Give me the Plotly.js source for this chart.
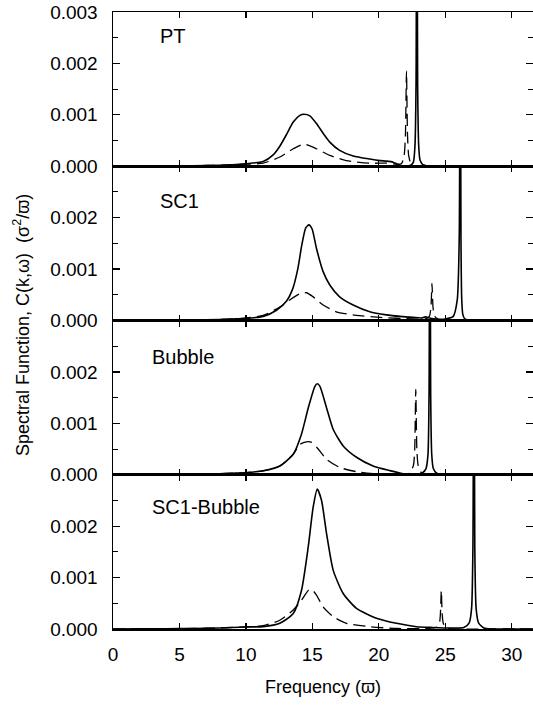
<!DOCTYPE html>
<html>
<head>
<meta charset="utf-8">
<script src="https://cdn.plot.ly/plotly-3.0.1.min.js"></script>
<style>html,body{margin:0;padding:0;background:#fff;}#chart{width:533px;height:706px;}</style>
</head>
<body>
<div id="chart"></div>
<script>
// Panel names (top to bottom)
const panelNames = ["PT", "SC1", "Bubble", "SC1-Bubble"];
const panelLabelX = [158, 158, 150, 150];   // pixel x of label start
const panelLabelY = [36, 201, 357, 507];    // pixel y of label centre

// ---- PT ----
const ptSolidX = [0, 2, 4, 6, 8, 9, 10, 11.3, 12.05, 12.55, 13.06, 13.56, 14.06, 14.36, 14.81, 15.31, 15.81, 16.31, 17.05, 18.07, 19.32, 20.1, 20.57, 21.07, 21.4, 21.7, 22.0, 22.4, 22.6, 22.72, 22.8, 22.86, 22.92, 23.0, 23.1, 23.3, 23.6, 24, 26, 28, 31.6];
const ptSolidY = [0, 0.000003, 0.000006, 0.00001, 0.00002, 0.00003, 0.00005, 0.000092, 0.00022, 0.00039, 0.00062, 0.00086, 0.00099, 0.00101, 0.00098, 0.00083, 0.00064, 0.00047, 0.00031, 0.0002, 0.00014, 0.00011, 0.0001, 0.00008, 0.00004, 0.00001, 0.000005, 0.00002, 0.00008, 0.0004, 0.0016, 0.008, 0.0016, 0.0004, 0.00012, 0.00003, 0.00001, 0, 0, 0, 0];
const ptDashX = [0, 2, 4, 6, 8, 9, 10, 11.3, 12.55, 13.56, 14.36, 15.31, 16.31, 17.55, 19.32, 20.57, 21.3, 21.7, 21.9, 22.0, 22.08, 22.16, 22.25, 22.45, 22.8, 24, 28, 31.6];
const ptDashY = [0, 0.000003, 0.000006, 0.00001, 0.00002, 0.00003, 0.00004, 0.00006, 0.00018, 0.00034, 0.00043, 0.00034, 0.00021, 0.00011, 0.00006, 0.00006, 0.00004, 0.00005, 0.0002, 0.0006, 0.00185, 0.0006, 0.0002, 0.00003, 0, 0, 0, 0];

// ---- SC1 ----
const sc1SolidX = [0, 2, 4, 6, 8, 9, 10, 11.3, 12.3, 13.06, 13.5, 13.9, 14.2, 14.5, 14.74, 14.98, 15.31, 15.81, 16.31, 17.05, 18.07, 19.32, 20.57, 21.6, 22.6, 23.2, 23.5, 23.8, 24.3, 25.0, 25.6, 25.9, 26.05, 26.12, 26.18, 26.24, 26.32, 26.45, 26.7, 27.2, 28, 31.6];
const sc1SolidY = [0, 0.000003, 0.000006, 0.00001, 0.00002, 0.00003, 0.00004, 0.00008, 0.0002, 0.00038, 0.0006, 0.001, 0.00146, 0.0018, 0.00186, 0.00178, 0.0014, 0.00095, 0.00069, 0.00046, 0.0003, 0.00017, 0.00011, 0.00008, 0.00006, 0.00005, 0.00007, 0.00005, 0.00003, 0.00003, 0.00008, 0.0004, 0.0016, 0.008, 0.0016, 0.0004, 0.00012, 0.00004, 0.00001, 0, 0, 0];
const sc1DashX = [0, 2, 4, 6, 8, 9, 10, 11.3, 12.55, 13.3, 14.06, 14.56, 15.06, 15.81, 16.8, 18.3, 20.1, 22.6, 23.5, 23.8, 23.92, 24.0, 24.08, 24.2, 24.5, 25, 28, 31.6];
const sc1DashY = [0, 0.000003, 0.000006, 0.00001, 0.00002, 0.00003, 0.00005, 0.0001, 0.00026, 0.0004, 0.00052, 0.00054, 0.00046, 0.0003, 0.00017, 0.0001, 0.00006, 0.00003, 0.00003, 0.00008, 0.00025, 0.00072, 0.00025, 0.00008, 0.00002, 0, 0, 0];

// ---- Bubble ----
const bubSolidX = [0, 2, 4, 6, 8, 9, 10, 11.3, 12.55, 13.56, 14.18, 14.69, 15.19, 15.37, 15.57, 16.07, 16.57, 17.32, 18.32, 19.57, 20.83, 21.83, 22.3, 22.9, 23.3, 23.55, 23.7, 23.78, 23.84, 23.9, 23.98, 24.1, 24.35, 24.7, 26, 28, 31.6];
const bubSolidY = [0, 0.000003, 0.000006, 0.00001, 0.00002, 0.00003, 0.00004, 0.000077, 0.00017, 0.0004, 0.00079, 0.0013, 0.00172, 0.00177, 0.00172, 0.0013, 0.00088, 0.00056, 0.00034, 0.00017, 0.00008, 0.00002, 0.000005, 0.00001, 0.00004, 0.00012, 0.0004, 0.0016, 0.008, 0.0016, 0.0004, 0.00012, 0.00003, 0.00001, 0, 0, 0];
const bubDashX = [0, 2, 4, 6, 8, 9, 10, 11.3, 12.55, 13.56, 14.06, 14.56, 14.94, 15.44, 16.07, 17.07, 18.32, 20.1, 21.5, 22.3, 22.6, 22.7, 22.78, 22.86, 22.96, 23.2, 23.6, 26, 31.6];
const bubDashY = [0, 0.000003, 0.000006, 0.00001, 0.00002, 0.00003, 0.00004, 0.000077, 0.00017, 0.0004, 0.00059, 0.00064, 0.00063, 0.0005, 0.0003, 0.00014, 0.00006, 0.00001, 0, 0.00003, 0.00018, 0.0005, 0.00166, 0.0005, 0.00018, 0.00004, 0.00001, 0, 0];

// ---- SC1-Bubble ----
const scbSolidX = [0, 2, 4, 6, 8, 9, 10, 11.3, 12.55, 13.56, 14.18, 14.69, 15.06, 15.37, 15.69, 16.07, 16.57, 17.32, 18.32, 19.82, 21.33, 22.83, 24, 25.5, 26.4, 26.8, 26.98, 27.08, 27.15, 27.22, 27.32, 27.5, 27.9, 28.5, 31.6];
const scbSolidY = [0, 0.000003, 0.000006, 0.00001, 0.00002, 0.00003, 0.00004, 0.000045, 0.00011, 0.0003, 0.00075, 0.0016, 0.00237, 0.00272, 0.0025, 0.00185, 0.00114, 0.00069, 0.0004, 0.00021, 0.00011, 0.000045, 0.00003, 0.00002, 0.00003, 0.00012, 0.0004, 0.0016, 0.008, 0.0016, 0.0004, 0.00012, 0.00002, 0, 0];
const scbDashX = [0, 2, 4, 6, 8, 9, 10, 11.3, 12.55, 13.56, 14.18, 14.69, 14.94, 15.31, 15.81, 16.57, 17.57, 19.32, 21.33, 23.5, 24.3, 24.55, 24.63, 24.7, 24.77, 24.86, 25.1, 25.6, 28, 31.6];
const scbDashY = [0, 0.000003, 0.000006, 0.00001, 0.00002, 0.00003, 0.00004, 0.000065, 0.00017, 0.00037, 0.00056, 0.00075, 0.00077, 0.00066, 0.00043, 0.00024, 0.00011, 0.000045, 0.00001, 0.00001, 0.00003, 0.0001, 0.00028, 0.00075, 0.00028, 0.0001, 0.00002, 0, 0, 0];

const solids = [[ptSolidX, ptSolidY], [sc1SolidX, sc1SolidY], [bubSolidX, bubSolidY], [scbSolidX, scbSolidY]];
const dashes = [[ptDashX, ptDashY], [sc1DashX, sc1DashY], [bubDashX, bubDashY], [scbDashX, scbDashY]];

const xTicks = [0, 5, 10, 15, 20, 25, 30];
const yTicksTop = [0, 0.001, 0.002, 0.003];
const yTicksOther = [0, 0.001, 0.002];
const yTickTextTop = ["0.000", "0.001", "0.002", "0.003"];
const yTickTextOther = ["0.000", "0.001", "0.002"];
const yMinor = [0.0005, 0.0015, 0.0025];

const W = 533, H = 706, ML = 113, MR = 0, MT = 12, MB = 77;
const PW = W - ML - MR, PH = H - MT - MB;
const FONT = "Liberation Sans, Arial, sans-serif";
const traces = [];
const layout = {
  width: W, height: H,
  margin: {l: ML, r: MR, t: MT, b: MB},
  paper_bgcolor: "#fff", plot_bgcolor: "#fff",
  showlegend: false,
  font: {family: FONT, size: 18, color: "#000"},
  annotations: []
};

for (let i = 0; i < 4; i++) {
  const idx = 4 - i; // axis index: bottom panel = 1
  const xa = idx === 1 ? "x" : "x" + idx;
  const ya = idx === 1 ? "y" : "y" + idx;
  traces.push({x: solids[i][0], y: solids[i][1], xaxis: xa, yaxis: ya, mode: "lines",
    line: {color: "#000", width: 1.6, shape: "spline", smoothing: 0.6}, hoverinfo: "skip"});
  traces.push({x: dashes[i][0], y: dashes[i][1], xaxis: xa, yaxis: ya, mode: "lines",
    line: {color: "#000", width: 1.3, dash: "12px,6px", shape: "spline", smoothing: 0.6}, hoverinfo: "skip"});
  const d0 = (idx - 1) / 4, d1 = idx / 4;
  const xName = idx === 1 ? "xaxis" : "xaxis" + idx;
  const yName = idx === 1 ? "yaxis" : "yaxis" + idx;
  layout[xName] = {
    domain: [0, 1], anchor: ya, range: [0, 31.6],
    tickmode: "array", tickvals: xTicks, ticks: "inside", ticklen: 6, tickwidth: 1.2, tickcolor: "#000",
    showline: true, linecolor: "#000", linewidth: 1.5, mirror: "ticks",
    showgrid: false, zeroline: false, showticklabels: idx === 1,
    ticklabelstandoff: 8,
    tickfont: {family: FONT, size: 19, color: "#000"},
    fixedrange: true
  };
  if (idx !== 1) layout[xName].matches = "x";
  if (idx === 1) layout[xName].title = {text: "Frequency (ϖ)", font: {family: FONT, size: 18, color: "#000"}, standoff: 16};
  const top = i === 0;
  layout[yName] = {
    domain: [d0, d1], anchor: xa, range: [0, 0.003],
    tickmode: "array", tickvals: top ? yTicksTop : yTicksOther, ticktext: top ? yTickTextTop : yTickTextOther,
    ticks: "inside", ticklen: 7, tickwidth: 1.2, tickcolor: "#000",
    minor: {tickmode: "array", tickvals: yMinor, ticks: "inside", ticklen: 5, tickwidth: 1, tickcolor: "#000", showgrid: false},
    showline: true, linecolor: "#000", linewidth: 1.5, mirror: "ticks",
    showgrid: false, zeroline: false, ticklabelstandoff: 10,
    tickfont: {family: FONT, size: 19, color: "#000"},
    fixedrange: true
  };
  layout.annotations.push({
    text: panelNames[i], xref: "paper", yref: "paper",
    x: (panelLabelX[i] - ML) / PW, y: (H - MB - panelLabelY[i]) / PH,
    xanchor: "left", yanchor: "middle", showarrow: false,
    font: {family: FONT, size: 20, color: "#000"}
  });
}

layout.annotations.push({
  text: "Spectral Function, C(k,ω)  (σ<sup>2</sup>/ϖ)", xref: "paper", yref: "paper",
  x: (21 - ML) / PW, y: (H - MB - 325) / PH, xanchor: "center", yanchor: "middle", textangle: -90, showarrow: false,
  font: {family: FONT, size: 18, color: "#000"}
});

Plotly.newPlot("chart", traces, layout, {staticPlot: true, displayModeBar: false});
</script>
</body>
</html>
